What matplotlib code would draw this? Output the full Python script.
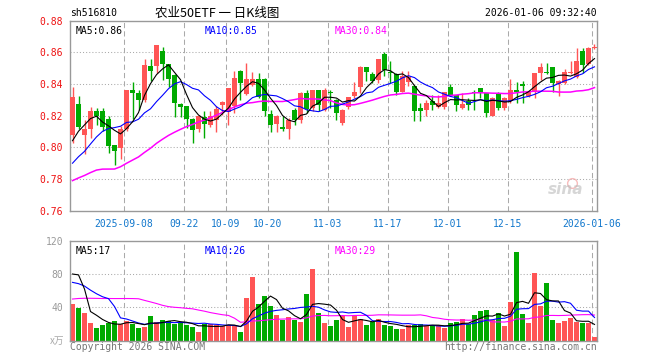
import numpy as np
import pandas as pd
import matplotlib
matplotlib.use("Agg")
import matplotlib.pyplot as plt

# ---- data (daily K line, sh516810) ----
opens = [0.808, 0.8275, 0.808, 0.8117, 0.8231, 0.8231, 0.8181, 0.8013, 0.7999, 0.8113,
         0.8363, 0.8346, 0.830, 0.8515, 0.8512, 0.861, 0.8526, 0.8456, 0.8275, 0.826,
         0.818, 0.8113, 0.8194, 0.8144, 0.8172, 0.8268, 0.8221, 0.826, 0.848, 0.834,
         0.8395, 0.843, 0.843, 0.8212, 0.815, 0.813, 0.8113, 0.8233, 0.8175, 0.8346,
         0.8248, 0.8363, 0.8238, 0.8352, 0.830, 0.8152, 0.8255, 0.8322, 0.8383, 0.8508,
         0.8465, 0.8425, 0.8592, 0.8477, 0.8465, 0.8352, 0.8415, 0.8385, 0.8248, 0.8233,
         0.8296, 0.8258, 0.8258, 0.8383, 0.8331, 0.8248, 0.829, 0.8348, 0.8373, 0.8342,
         0.820, 0.8342, 0.8248, 0.8296, 0.8365, 0.8402, 0.8327, 0.8348, 0.8469, 0.8478,
         0.851, 0.8402, 0.8406, 0.8472, 0.8446, 0.861, 0.8527, 0.863]
highs = [0.838, 0.8325, 0.817, 0.8258, 0.8248, 0.8248, 0.820, 0.8013, 0.8138, 0.8363,
         0.8412, 0.8363, 0.8556, 0.856, 0.8647, 0.8635, 0.8526, 0.8463, 0.8283, 0.8262,
         0.8185, 0.8205, 0.8227, 0.8227, 0.826, 0.8295, 0.8373, 0.8485, 0.849, 0.853,
         0.8477, 0.8467, 0.8435, 0.8237, 0.8205, 0.8196, 0.8185, 0.8248, 0.8352, 0.8363,
         0.8363, 0.8363, 0.8375, 0.8363, 0.8305, 0.824, 0.832, 0.841, 0.8512, 0.851,
         0.8477, 0.856, 0.8602, 0.8546, 0.8467, 0.8482, 0.8484, 0.8394, 0.828, 0.830,
         0.8331, 0.8331, 0.8352, 0.840, 0.8331, 0.8346, 0.8311, 0.8363, 0.8373, 0.8342,
         0.8315, 0.8352, 0.8315, 0.843, 0.8415, 0.8417, 0.8365, 0.8469, 0.8531, 0.8535,
         0.851, 0.8425, 0.8495, 0.8548, 0.8625, 0.8626, 0.8635, 0.865]
lows = [0.803, 0.8115, 0.7955, 0.806, 0.8144, 0.8105, 0.7966, 0.7888, 0.7925, 0.8105,
        0.818, 0.8238, 0.8285, 0.842, 0.847, 0.8425, 0.838, 0.8192, 0.8194, 0.812,
        0.803, 0.8096, 0.806, 0.813, 0.8099, 0.8206, 0.814, 0.822, 0.830, 0.833,
        0.8385, 0.831, 0.8196, 0.8096, 0.810, 0.8102, 0.8054, 0.8144, 0.8154, 0.822,
        0.8227, 0.8227, 0.8227, 0.8248, 0.8175, 0.8142, 0.8245, 0.831, 0.8345, 0.8418,
        0.8404, 0.8406, 0.845, 0.8404, 0.833, 0.835, 0.8385, 0.8165, 0.8166, 0.820,
        0.8238, 0.8248, 0.8242, 0.8325, 0.8227, 0.8245, 0.8238, 0.8238, 0.8311, 0.8192,
        0.8196, 0.8238, 0.8238, 0.828, 0.8281, 0.8281, 0.8315, 0.8313, 0.8423, 0.8465,
        0.8348, 0.8325, 0.840, 0.8465, 0.844, 0.8469, 0.852, 0.862]
closes = [0.8315, 0.813, 0.8117, 0.8227, 0.8196, 0.813, 0.8009, 0.7977, 0.8113, 0.8362,
          0.8346, 0.830, 0.852, 0.8483, 0.8647, 0.8526, 0.843, 0.8283, 0.8253, 0.818,
          0.811, 0.8196, 0.815, 0.8196, 0.824, 0.8285, 0.8373, 0.8435, 0.8406, 0.843,
          0.843, 0.8321, 0.8227, 0.8144, 0.820, 0.8115, 0.8175, 0.8175, 0.8346, 0.8242,
          0.8363, 0.8269, 0.8363, 0.8346, 0.8216, 0.8236, 0.8315, 0.835, 0.8508, 0.8478,
          0.8422, 0.856, 0.849, 0.8468, 0.8352, 0.845, 0.8446, 0.8232, 0.8227, 0.828,
          0.8269, 0.8283, 0.8352, 0.8325, 0.8269, 0.8275, 0.8269, 0.8344, 0.8346, 0.8217,
          0.831, 0.8248, 0.831, 0.8363, 0.8348, 0.8385, 0.835, 0.8469, 0.851, 0.8472,
          0.8406, 0.8417, 0.8479, 0.8477, 0.8545, 0.852, 0.8625, 0.8636]
volumes = [44, 39.6, 33, 21, 15, 19, 21.6, 23.6, 19.6, 24,
           20.4, 15.2, 16.8, 29.6, 22.4, 24.8, 23.6, 20.4, 22.8, 19.2,
           16.4, 10.4, 20.4, 19.6, 18.8, 17.6, 18.8, 18.8, 10.4, 51.6,
           76.8, 44, 53.6, 41.6, 30.8, 24.8, 28.4, 24.8, 22.8, 56,
           86, 33.2, 21.2, 17.6, 24.8, 30, 16.8, 30, 25.6, 18.8,
           22, 25.6, 18.8, 17.6, 14, 14, 19.2, 19.2, 20, 17.2,
           18, 18.8, 15.2, 21.6, 22.4, 26, 20, 30.8, 35.6, 36.8,
           24.4, 33.2, 18, 46.4, 106.4, 32, 21.6, 81.2, 42, 69.2,
           24.8, 21.2, 23.6, 27.2, 22.8, 21.6, 21.6, 4.4]

# earlier sessions (left of the window), estimated from where the MA lines start
prior_closes = [0.762, 0.765, 0.768, 0.772, 0.795, 0.800, 0.797,
                0.768, 0.771, 0.774, 0.770, 0.766, 0.769, 0.772, 0.775, 0.771, 0.768, 0.770, 0.767, 0.770,
                0.772, 0.778, 0.776, 0.775, 0.778,
                0.783, 0.7917, 0.8027, 0.812]
prior_volumes = [20, 25, 22, 18, 24, 21, 26, 19, 23, 22, 22,
                 75, 85, 80, 90, 70,
                 45, 38, 42, 33,
                 55, 62, 70, 58, 55,
                 44.6, 118, 156, 37.4]

# legend values as printed on the chart
price_ma_labels = ["MA5:0.86", "MA10:0.85", "MA30:0.84"]
vol_ma_labels = ["MA5:17", "MA10:26", "MA30:29"]

tick_pos = [9, 19, 26, 33, 43, 53, 63, 73, 87]
tick_labels = ["2025-09-08", "09-22", "10-09", "10-20", "11-03", "11-17", "12-01", "12-15", "2026-01-06"]

RED = "#ff5555"
GREEN = "#00aa00"
MA_COLORS = ["black", "#0000ff", "#ff00ff"]
MONO = "DejaVu Sans Mono"

n = len(closes)
x = np.arange(n)
o = np.array(opens); c = np.array(closes); h = np.array(highs); l = np.array(lows)
v = np.array(volumes)
up = c >= o
cols = np.where(up, RED, GREEN)

allc = pd.Series(prior_closes + closes)
allv = pd.Series(prior_volumes + volumes)
k = len(prior_closes)
ma = {w: allc.rolling(w).mean().values[k:] for w in (5, 10, 30)}
vma = {w: allv.rolling(w).mean().values[k:] for w in (5, 10, 30)}

W, H = 660, 360
fig = plt.figure(figsize=(6.6, 3.6), dpi=100)

def fx(px): return px / W
def fy(py): return 1 - py / H

ax = fig.add_axes([fx(70), fy(210.7), fx(527), 190 / H])
axv = fig.add_axes([fx(70), fy(340.7), fx(527), 100 / H])

xl = (-2.5 / 6, (597 - 72.5) / 6)
for a in (ax, axv):
    a.set_xlim(*xl)
    for s in a.spines.values():
        s.set_color("#999999")
        s.set_linewidth(1.0)
    a.tick_params(length=0)
    for p in tick_pos:
        a.axvline(p - 0.42, color="#aaaaaa", lw=0.75, ls=(0, (5, 3)), zorder=0)

# price panel
ax.set_ylim(0.76, 0.88)
yt = np.arange(0.76, 0.8801, 0.02)
ax.set_yticks(yt)
ax.set_yticklabels([f"{t:.2f}" for t in yt], color="#ee1111", fontsize=7, family=MONO)
for t in yt[1:-1]:
    ax.axhline(t, color="#aaaaaa", lw=0.75, ls=(0, (1, 2)), zorder=0)
ax.vlines(x, l, h, colors=cols, lw=1, zorder=2)
body = np.maximum(np.abs(c - o), 0.0006)
ax.bar(x, body, bottom=np.minimum(o, c), width=0.8, color=cols, zorder=3)
ax.plot(x, ma[30], color=MA_COLORS[2], lw=1.1, zorder=4)
ax.plot(x, ma[10], color=MA_COLORS[1], lw=0.8, zorder=4)
ax.plot(x, ma[5], color=MA_COLORS[0], lw=0.8, zorder=4)
ax.set_xticks([p - 0.42 for p in tick_pos])
ax.set_xticklabels(tick_labels, color="#1177cc", fontsize=7, family=MONO)
ax.tick_params(axis="x", pad=6)
ax.tick_params(axis="y", pad=5)

leg_x = [0.01, (205 - 70) / 527, (335 - 70) / 527]
for lx, txt, col in zip(leg_x, price_ma_labels, MA_COLORS):
    ax.text(lx, 0.97, txt, transform=ax.transAxes, fontsize=7, family=MONO, color=col, va="top")

ax.text((566 - 70) / 527, 0.09, "sina", transform=ax.transAxes, fontsize=11,
        style="italic", weight="bold", color="#bbbbbb", alpha=0.6, ha="center")
ax.plot([(572 - 72.5) / 6], [0.7775], marker="o", ms=7, mfc="none", mec="#f4a0a0", alpha=0.7)

# volume panel
axv.set_ylim(0, 120)
axv.set_yticks([40, 80, 120])
axv.set_yticklabels(["40", "80", "120"], color="#999999", fontsize=7, family=MONO)
axv.tick_params(axis="y", pad=5)
axv.set_xticks([])
for t in (40, 80):
    axv.axhline(t, color="#aaaaaa", lw=0.75, ls=(0, (1, 2)), zorder=0)
axv.bar(x, v, width=0.8, color=cols, zorder=2)
axv.plot(x, vma[30], color=MA_COLORS[2], lw=0.8, zorder=3)
axv.plot(x, vma[10], color=MA_COLORS[1], lw=0.8, zorder=3)
axv.plot(x, vma[5], color=MA_COLORS[0], lw=0.8, zorder=3)
for lx, txt, col in zip(leg_x, vol_ma_labels, MA_COLORS):
    axv.text(lx, 0.95, txt, transform=axv.transAxes, fontsize=7, family=MONO, color=col, va="top")

# header and footer
fig.text(fx(70), fy(13), "sh516810", fontsize=7, family=MONO, va="center")
fig.text(fx(217), fy(13), "农业50ETF 一 日K线图", fontsize=9,
         family=["Noto Sans CJK SC", "DejaVu Sans"], ha="center", va="center")
fig.text(fx(597), fy(13), "2026-01-06 09:32:40", fontsize=7, family=MONO,
         ha="right", va="center")
fig.text(fx(64), fy(341), "x万", fontsize=7, color="#aaaaaa",
         family=["Noto Sans CJK SC", "DejaVu Sans"], ha="right", va="center")
fig.text(fx(70), fy(347), "Copyright 2026 SINA.COM", fontsize=7, family=MONO,
         color="#777777", va="center")
fig.text(fx(597), fy(347), "http://finance.sina.com.cn", fontsize=7, family=MONO,
         color="#777777", ha="right", va="center")

fig.savefig("out.png", dpi=100)
